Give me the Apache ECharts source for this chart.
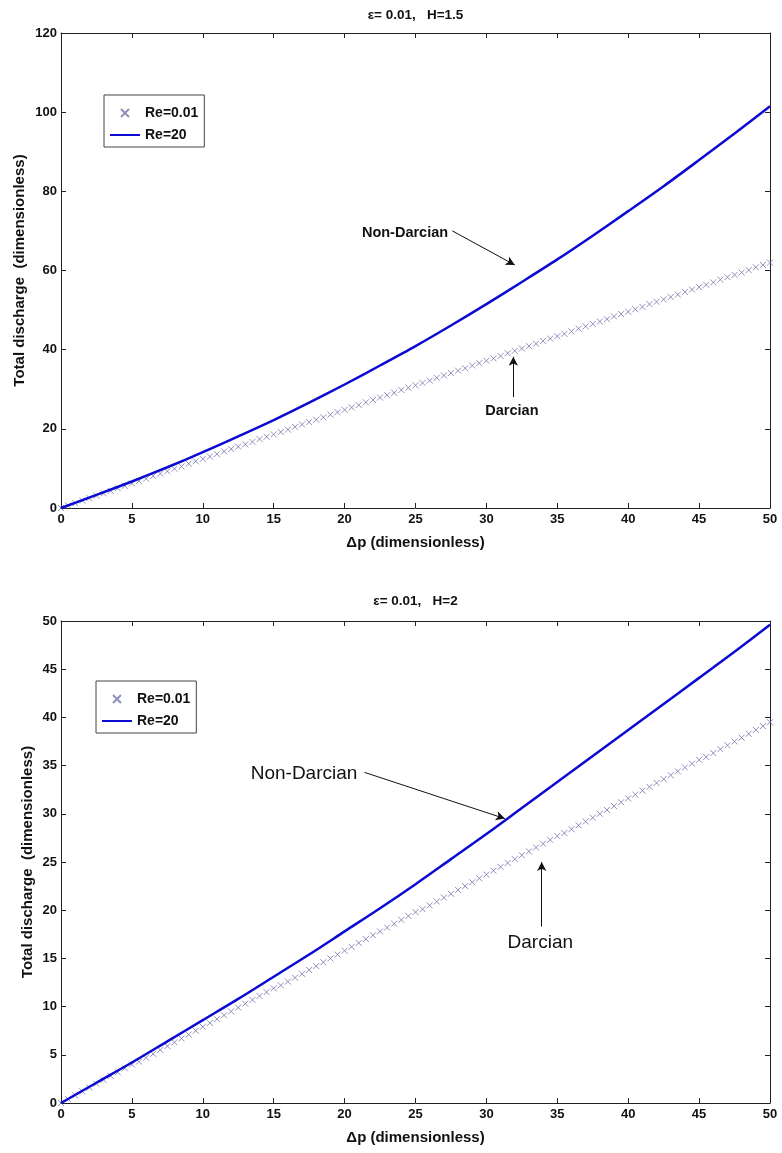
<!DOCTYPE html>
<html>
<head>
<meta charset="utf-8">
<script src="https://cdn.jsdelivr.net/npm/echarts@6/dist/echarts.min.js"></script>
<style>
  html, body { margin: 0; padding: 0; background: #fff; }
  #chart { width: 782px; height: 1153px; }
</style>
</head>
<body>
<div id="chart"></div>
<script>
// x values of the Darcian markers (every 0.5)
const dpMarks = []
for (let i = 0; i <= 100; i++) dpMarks.push(i / 2)
// x values of the Non-Darcian line (every 2.5)
const dpLine = [0, 2.5, 5, 7.5, 10, 12.5, 15, 17.5, 20, 22.5, 25, 27.5, 30, 32.5, 35, 37.5, 40, 42.5, 45, 47.5, 50]

// H = 1.5
const darcianTop = [
  0, 0.6, 1.2, 1.9, 2.5, 3.1, 3.7, 4.3, 5.0, 5.6,
  6.2, 6.8, 7.4, 8.1, 8.7, 9.3, 9.9, 10.5, 11.2, 11.8,
  12.4, 13.0, 13.6, 14.3, 14.9, 15.5, 16.1, 16.7, 17.4, 18.0,
  18.6, 19.2, 19.8, 20.5, 21.1, 21.7, 22.3, 22.9, 23.6, 24.2,
  24.8, 25.4, 26.0, 26.7, 27.3, 27.9, 28.5, 29.1, 29.8, 30.4,
  31.0, 31.6, 32.2, 32.9, 33.5, 34.1, 34.7, 35.3, 36.0, 36.6,
  37.2, 37.8, 38.4, 39.1, 39.7, 40.3, 40.9, 41.5, 42.2, 42.8,
  43.4, 44.0, 44.6, 45.3, 45.9, 46.5, 47.1, 47.7, 48.4, 49.0,
  49.6, 50.2, 50.8, 51.5, 52.1, 52.7, 53.3, 53.9, 54.6, 55.2,
  55.8, 56.4, 57.0, 57.7, 58.3, 58.9, 59.5, 60.1, 60.8, 61.4,
  62.0
]
const nonDarcianTop = [0, 3.3, 6.7, 10.3, 14.1, 18.1, 22.2, 26.6, 31.2, 36.0, 40.9, 46.1, 51.5, 57.1, 62.8, 68.8, 75.0, 81.3, 87.9, 94.6, 101.5]

// H = 2
const darcianBottom = [
  0, 0.4, 0.8, 1.2, 1.6, 2.0, 2.4, 2.8, 3.2, 3.6,
  4.0, 4.3, 4.7, 5.1, 5.5, 5.9, 6.3, 6.7, 7.1, 7.5,
  7.9, 8.3, 8.7, 9.1, 9.5, 9.9, 10.3, 10.7, 11.1, 11.5,
  11.9, 12.2, 12.6, 13.0, 13.4, 13.8, 14.2, 14.6, 15.0, 15.4,
  15.8, 16.2, 16.6, 17.0, 17.4, 17.8, 18.2, 18.6, 19.0, 19.4,
  19.8, 20.1, 20.5, 20.9, 21.3, 21.7, 22.1, 22.5, 22.9, 23.3,
  23.7, 24.1, 24.5, 24.9, 25.3, 25.7, 26.1, 26.5, 26.9, 27.3,
  27.7, 28.0, 28.4, 28.8, 29.2, 29.6, 30.0, 30.4, 30.8, 31.2,
  31.6, 32.0, 32.4, 32.8, 33.2, 33.6, 34.0, 34.4, 34.8, 35.2,
  35.6, 35.9, 36.3, 36.7, 37.1, 37.5, 37.9, 38.3, 38.7, 39.1,
  39.5
]
const nonDarcianBottom = [0, 2.1, 4.2, 6.4, 8.6, 10.8, 13.1, 15.4, 17.8, 20.2, 22.7, 25.3, 27.9, 30.6, 33.3, 36.0, 38.7, 41.4, 44.1, 46.8, 49.6]

const titles = ['\u03b5= 0.01,   H=1.5', '\u03b5= 0.01,   H=2']
const yMax = [120, 50]
const yStep = [20, 5]

const font = "'Liberation Sans Narrow', 'Liberation Sans', Arial, sans-serif"
const crossPath = 'path://M0,0L10,10M10,0L0,10'
const blue = '#0a0ad2'
const crossColor = '#7474ac'

const pairs = (xs, ys) => xs.map((x, i) => [x, ys[i]])

const chart = echarts.init(document.getElementById('chart'), null, { renderer: 'canvas' })

const grids = [
  { left: 61, right: 12, top: 33, height: 475, outerBoundsMode: 'none', containLabel: false },
  { left: 61, right: 12, top: 621, height: 482, outerBoundsMode: 'none', containLabel: false }
]

const xAxes = []
const yAxes = []
grids.forEach((g, i) => {
  const base = {
    gridIndex: i,
    type: 'value',
    min: 0,
    axisLine: { show: true, onZero: false, lineStyle: { color: '#222', width: 1 } },
    axisTick: { show: true, inside: true, length: 5, lineStyle: { color: '#222' } },
    splitLine: { show: false }
  }
  xAxes.push(Object.assign({}, base, {
    max: 50, interval: 5, position: 'bottom',
    name: '\u0394p (dimensionless)', nameLocation: 'middle', nameGap: 27, nameMoveOverlap: false,
    nameTextStyle: { fontFamily: font, fontWeight: 'bold', fontSize: 15, color: '#111' },
    axisLabel: { fontFamily: font, fontWeight: 'bold', fontSize: 13, color: '#111', margin: 5 }
  }))
  xAxes.push(Object.assign({}, base, {
    max: 50, interval: 5, position: 'top', axisLabel: { show: false }
  }))
  yAxes.push(Object.assign({}, base, {
    max: yMax[i], interval: yStep[i], position: 'left',
    name: 'Total discharge  (dimensionless)', nameLocation: 'middle', nameGap: i === 0 ? 34 : 26, nameMoveOverlap: false,
    nameTextStyle: { fontFamily: font, fontWeight: 'bold', fontSize: 15, color: '#111' },
    axisLabel: { fontFamily: font, fontWeight: 'bold', fontSize: 13, color: '#111', margin: 4 }
  }))
  yAxes.push(Object.assign({}, base, {
    max: yMax[i], interval: yStep[i], position: 'right', axisLabel: { show: false }
  }))
})

// annotation arrows, in data coordinates
const arrows = [
  [[27.6, 70.0], [32.0, 61.4], [31.9, 28.0], [31.9, 38.2]],
  [[21.4, 34.3], [31.3, 29.5], [33.9, 18.3], [33.9, 25.0]]
]

function makeSeries(i, darcian, nonDarcian) {
  const a = arrows[i]
  return [
    {
      name: 'Re=0.01',
      type: 'scatter',
      xAxisIndex: i * 2,
      yAxisIndex: i * 2,
      data: pairs(dpMarks, darcian),
      symbol: crossPath,
      symbolSize: 6,
      itemStyle: { color: 'none', borderColor: crossColor, borderWidth: 1 },
      z: 2
    },
    {
      name: 'Re=20',
      type: 'line',
      xAxisIndex: i * 2,
      yAxisIndex: i * 2,
      data: pairs(dpLine, nonDarcian),
      smooth: 0.3,
      symbol: 'none',
      showSymbol: false,
      lineStyle: { color: blue, width: 2.5 },
      itemStyle: { color: blue },
      z: 3,
      markLine: {
        silent: true,
        symbol: ['none', 'arrow'],
        symbolSize: [7, 9],
        label: { show: false },
        lineStyle: { color: '#111', width: 1, type: 'solid' },
        data: [
          [{ coord: a[0] }, { coord: a[1] }],
          [{ coord: a[2] }, { coord: a[3] }]
        ]
      }
    }
  ]
}

const legendText = { fontFamily: font, fontWeight: 'bold', fontSize: 14, lineHeight: 14, color: '#111' }
const legendBase = {
  orient: 'vertical',
  itemWidth: 30,
  itemHeight: 8,
  itemGap: 8,
  padding: [11, 6, 5, 5],
  borderColor: '#444',
  borderWidth: 1,
  backgroundColor: '#fff',
  textStyle: legendText,
  selectedMode: false,
  data: [
    { name: 'Re=0.01' },
    { name: 'Re=20', itemStyle: { opacity: 0 } }
  ]
}

chart.setOption({
  animation: false,
  backgroundColor: '#fff',
  legend: [
    Object.assign({}, legendBase, { left: 104, top: 95 }),
    Object.assign({}, legendBase, { left: 96, top: 681 })
  ],
  grid: grids,
  xAxis: xAxes,
  yAxis: yAxes,
  series: makeSeries(0, darcianTop, nonDarcianTop).concat(makeSeries(1, darcianBottom, nonDarcianBottom))
})

// titles centred over each plot, annotation texts placed at data positions
const titleSpots = [
  { grid: 0, at: [25, yMax[0]], dy: -18, text: titles[0] },
  { grid: 1, at: [25, yMax[1]], dy: -20, text: titles[1] }
]
const labels = [
  { grid: 0, at: [27.3, 69.5], text: 'Non-Darcian', align: 'right', bold: true, size: 14.5 },
  { grid: 0, at: [31.8, 24.5], text: 'Darcian', align: 'center', bold: true, size: 14.5 },
  { grid: 1, at: [20.9, 34.2], text: 'Non-Darcian', align: 'right', bold: false, size: 19 },
  { grid: 1, at: [33.8, 16.6], text: 'Darcian', align: 'center', bold: false, size: 19 }
]
const texts = titleSpots.map(t => {
  const p = chart.convertToPixel({ gridIndex: t.grid }, t.at)
  return {
    type: 'text', x: p[0], y: p[1] + t.dy,
    style: { text: t.text, align: 'center', verticalAlign: 'middle', font: 'bold 13.5px ' + font, fill: '#111' }
  }
}).concat(labels.map(l => {
  const p = chart.convertToPixel({ gridIndex: l.grid }, l.at)
  return {
    type: 'text',
    x: p[0],
    y: p[1],
    style: {
      text: l.text,
      align: l.align,
      verticalAlign: 'middle',
      font: (l.bold ? 'bold ' : '') + l.size + 'px ' + (l.bold ? font : "'Liberation Sans', Arial, sans-serif"),
      fill: '#111'
    }
  }
}))
chart.setOption({ graphic: texts })
</script>
</body>
</html>
